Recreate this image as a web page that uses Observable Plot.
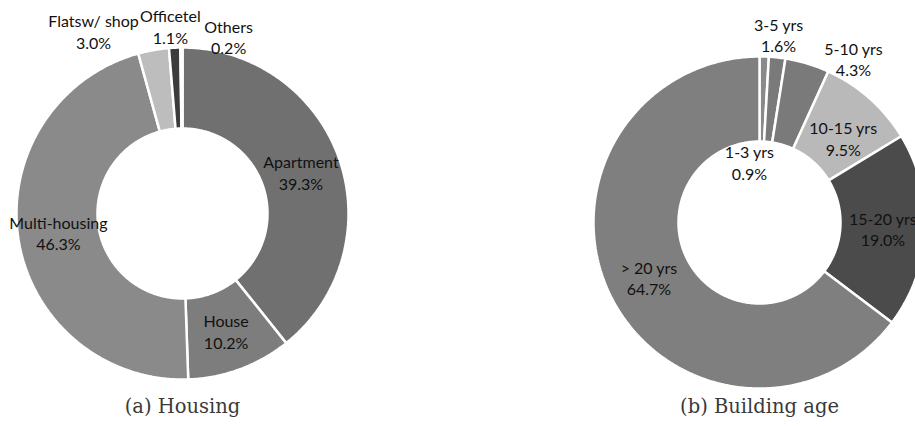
<!DOCTYPE html>
<html>
<head>
<meta charset="utf-8">
<script src="https://cdn.jsdelivr.net/npm/d3@7"></script>
<script src="https://cdn.jsdelivr.net/npm/@observablehq/plot@0.6"></script>
<style>
  html, body { margin: 0; padding: 0; background: #fff; overflow: hidden; }
</style>
</head>
<body>
<div id="chart"></div>
<script>
// ---- Data ----
const housingNames  = ["Apartment", "House", "Multi-housing", "Flatsw/ shop", "Officetel", "Others"];
const housingShares = [39.3, 10.2, 46.3, 3.0, 1.1, 0.2];
const ageNames  = ["1-3 yrs", "3-5 yrs", "5-10 yrs", "10-15 yrs", "15-20 yrs", "> 20 yrs"];
const ageShares = [0.9, 1.6, 4.3, 9.5, 19.0, 64.7];
const captions = ["(a) Housing", "(b) Building age"];

// ---- Styles / layout ----
const housingColors = ["#707070", "#7d7d7d", "#8a8a8a", "#bdbdbd", "#3c3c3c", "#8a8a8a"];
const ageColors     = ["#8a8a8a", "#7a7a7a", "#7a7a7a", "#b9b9b9", "#4b4b4b", "#7f7f7f"];
const W = 915, H = 426;
const donuts = [
  {names: housingNames, shares: housingShares, colors: housingColors, cx: 182, cy: 213, r0: 85, r1: 166,
   // label placement overrides: [angle deg clockwise from top, radius]; null = slice middle
   labelAt: [null, null, null, [334, 203], [356.3, 188], [14.6, 183]]},
  {names: ageNames, shares: ageShares, colors: ageColors, cx: 759, cy: 222, r0: 81, r1: 166,
   labelAt: [[-9.5, 61], [5.8, 189], [29.8, 189], [44.7, 119], null, null]}
];
const captionY = 406;

// ---- Build slice outlines and labels from data ----
const polyPts = [];
const labels = [];
const caps = [];
donuts.forEach((d, di) => {
  const total = d3.sum(d.shares);
  let acc = 0;
  d.shares.forEach((v, i) => {
    const a0 = acc / total * 2 * Math.PI;
    acc += v;
    const a1 = acc / total * 2 * Math.PI;
    const key = di + "-" + i;
    const n = Math.max(2, Math.ceil((a1 - a0) / 0.01));
    const pts = [];
    for (let k = 0; k <= n; k++) {
      const a = a0 + (a1 - a0) * k / n;
      pts.push([d.cx + d.r1 * Math.sin(a), d.cy - d.r1 * Math.cos(a)]);
    }
    for (let k = n; k >= 0; k--) {
      const a = a0 + (a1 - a0) * k / n;
      pts.push([d.cx + d.r0 * Math.sin(a), d.cy - d.r0 * Math.cos(a)]);
    }
    pts.push(pts[0]);
    pts.forEach(p => polyPts.push({key, x: p[0], y: p[1], color: d.colors[i]}));
    let la, lr;
    if (d.labelAt[i]) { la = d.labelAt[i][0] * Math.PI / 180; lr = d.labelAt[i][1]; }
    else { la = (a0 + a1) / 2; lr = (d.r0 + d.r1) / 2; }
    labels.push({x: d.cx + lr * Math.sin(la), y: d.cy - lr * Math.cos(la),
                 text: d.names[i] + "\n" + v.toFixed(1) + "%"});
  });
  caps.push({x: d.cx, y: captionY, text: captions[di]});
});

const chart = Plot.plot({
  width: W,
  height: H,
  margin: 0,
  x: {domain: [0, W], range: [0, W], axis: null},
  y: {domain: [0, H], range: [0, H], axis: null},
  color: {type: "identity"},
  style: {background: "#fff"},
  marks: [
    Plot.line(polyPts, {x: "x", y: "y", z: "key", fill: "color", stroke: "#fff", strokeWidth: 2.5,
                        strokeLinejoin: "miter", curve: "linear", clip: true}),
    Plot.text(labels, {x: "x", y: "y", text: "text", fill: "#111", fontSize: 16,
                       fontFamily: "Lato", lineHeight: 1.35}),
    Plot.text(caps, {x: "x", y: "y", text: "text", fill: "#3a3a3a", fontSize: 19.5,
                     fontFamily: "DejaVu Serif"})
  ]
});
document.getElementById("chart").appendChild(chart);
</script>
</body>
</html>
